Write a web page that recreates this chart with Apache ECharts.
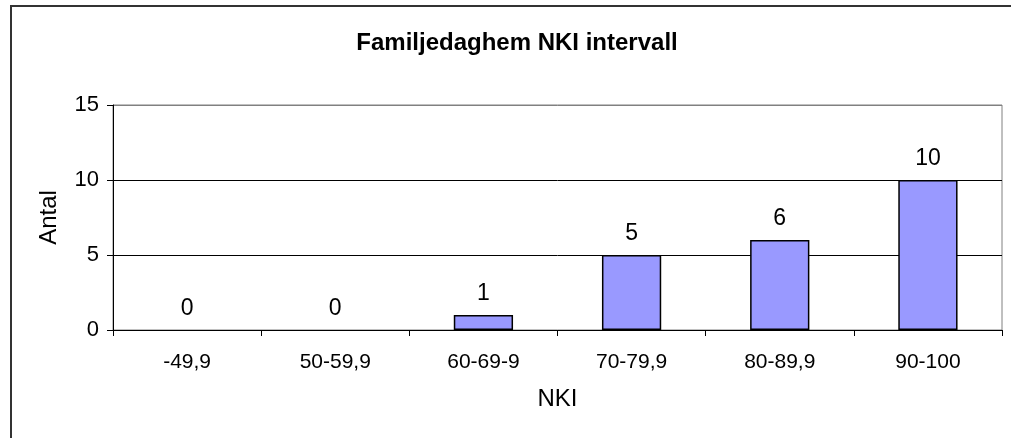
<!DOCTYPE html>
<html>
<head>
<meta charset="utf-8">
<script src="https://cdn.jsdelivr.net/npm/echarts@6/dist/echarts.min.js"></script>
<style>
html,body{margin:0;padding:0;background:#fff;}
#chart{width:1011px;height:438px;}
</style>
</head>
<body>
<div id="chart"></div>
<script>
var titleText = 'Familjedaghem NKI intervall';
var categories = ['-49,9', '50-59,9', '60-69-9', '70-79,9', '80-89,9', '90-100'];
var counts = [0, 0, 1, 5, 6, 10];
var yTicks = [0, 5, 10, 15];
var xName = 'NKI';
var yName = 'Antal';

var font = '"Liberation Sans", Arial, sans-serif';
var barData = counts.map(function (v) {
  return v === 0 ? {value: v, itemStyle: {borderWidth: 0, color: 'rgba(0,0,0,0)'}} : v;
});
var chart = echarts.init(document.getElementById('chart'), null, {renderer: 'canvas'});
chart.setOption({
  animation: false,
  backgroundColor: '#fff',
  title: {
    text: titleText,
    left: 512, top: 26, textAlign: 'center',
    textStyle: {fontFamily: font, fontWeight: 'bold', fontSize: 24, color: '#000'}
  },
  graphic: [{
    type: 'rect', shape: {x: 11, y: 6, width: 1100, height: 600},
    style: {fill: 'none', stroke: '#333', lineWidth: 2}, silent: true, z: 100
  }],
  grid: {
    left: 113, top: 105, right: 9, bottom: 108,
    show: true, borderColor: '#808080', borderWidth: 1, backgroundColor: '#fff'
  },
  xAxis: {
    type: 'category', data: categories,
    name: xName, nameLocation: 'middle', nameGap: 57,
    nameTextStyle: {fontFamily: font, fontSize: 24, color: '#000'},
    axisLine: {lineStyle: {color: '#000', width: 1}},
    axisTick: {show: true, alignWithLabel: false, length: 6, lineStyle: {color: '#000'}},
    axisLabel: {fontFamily: font, fontSize: 21, color: '#000', margin: 22, interval: 0}
  },
  yAxis: {
    type: 'value', min: yTicks[0], max: yTicks[yTicks.length - 1], interval: 5,
    name: yName, nameLocation: 'middle', nameGap: 52, nameRotate: 90,
    nameTextStyle: {fontFamily: font, fontSize: 24, color: '#000'},
    axisLine: {show: true, lineStyle: {color: '#000', width: 1}},
    axisTick: {show: true, length: 6, lineStyle: {color: '#000'}},
    axisLabel: {fontFamily: font, fontSize: 22, color: '#000', margin: 14},
    splitLine: {show: true, lineStyle: {color: ['#000', '#000', '#000', '#808080'], width: 1}}
  },
  series: [{
    type: 'bar', data: barData, barWidth: '40%',
    itemStyle: {color: '#9999FF', borderColor: '#000', borderWidth: 1.5},
    label: {show: true, position: 'top', distance: 10, fontFamily: font, fontSize: 23, color: '#000'}
  }]
});
</script>
</body>
</html>
